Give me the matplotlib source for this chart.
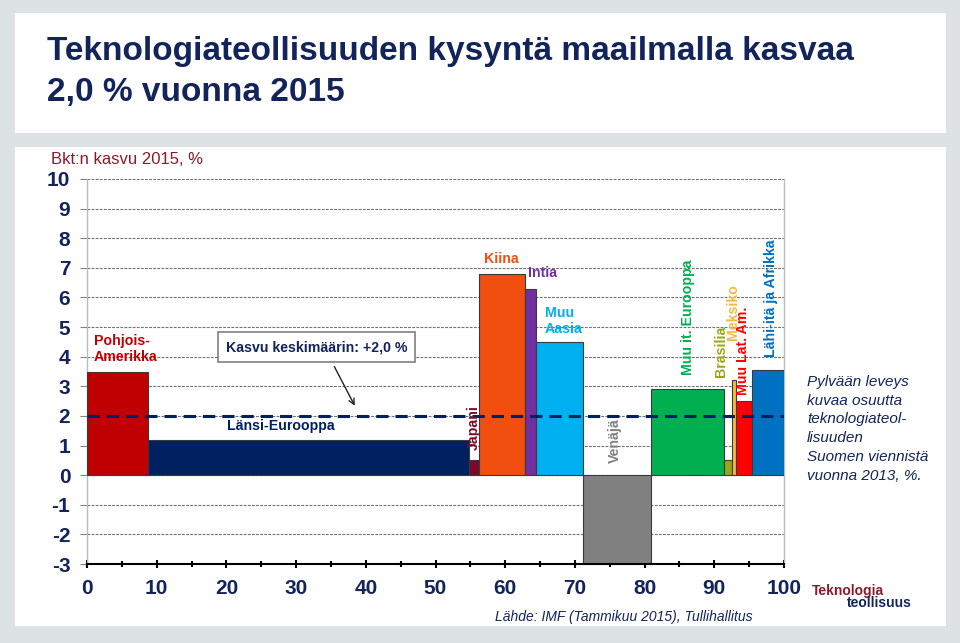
import numpy as np
import matplotlib
matplotlib.use("Agg")
import matplotlib.pyplot as plt
from matplotlib.patches import Rectangle

plt.rcParams["axes.unicode_minus"] = False

# Regions: width = share of Finnish tech industry exports 2013 (%), value = GDP growth 2015 (%)
regions = ["Pohjois-Amerikka", "Länsi-Eurooppa", "Japani", "Kiina", "Intia", "Muu Aasia",
           "Venäjä", "Muu it. Eurooppa", "Brasilia", "Meksiko", "Muu Lat. Am.",
           "Lähi-itä ja Afrikka"]
widths = [8.8, 46.0, 1.4, 6.7, 1.5, 6.8, 9.7, 10.5, 1.1, 0.6, 2.3, 4.6]
growth = [3.5, 1.2, 0.5, 6.8, 6.3, 4.5, -3.0, 2.9, 0.5, 3.2, 2.5, 3.55]
colors = ["#C00000", "#002060", "#7B0A2A", "#F04F10", "#7030A0", "#00B0F0",
          "#808080", "#00B050", "#99A617", "#F4B942", "#FF0000", "#0070C0"]
average = 2.0
y_ticks = list(range(-3, 11))
x_ticks = list(range(0, 101, 10))

navy = "#13245B"
bg = "#DDE3E3"
sans = ["Liberation Sans", "DejaVu Sans"]

fig = plt.figure(figsize=(9.6, 6.43), dpi=100)
fig.patch.set_facecolor(bg)

# white panels
fig.add_artist(Rectangle((15 / 960, 1 - 133 / 643), 931 / 960, 120 / 643,
                         transform=fig.transFigure, facecolor="white", edgecolor="none", zorder=0))
fig.add_artist(Rectangle((15 / 960, 1 - 626 / 643), 931 / 960, 479 / 643,
                         transform=fig.transFigure, facecolor="white", edgecolor="none", zorder=0))

fig.text(47 / 960, 1 - 72 / 643, "Teknologiateollisuuden kysyntä maailmalla kasvaa\n2,0 % vuonna 2015",
         family=sans, fontsize=24, fontweight="bold", color=navy, va="center",
         linespacing=1.4)

ax = fig.add_axes([87 / 960, 1 - 564 / 643, 697 / 960, 385 / 643])
ax.set_facecolor("none")
ax.set_xlim(0, 100)
ax.set_ylim(-3, 10)

lefts = np.concatenate([[0], np.cumsum(widths)[:-1]])
ax.bar(lefts, growth, width=widths, align="edge", color=colors,
       edgecolor="#3a3a3a", linewidth=0.8, zorder=3)

for y in y_ticks[1:]:
    ax.axhline(y, color="#707070", lw=0.8, dashes=(2.5, 1.2), zorder=1)
ax.plot([0, 100], [average, average], color="#002060", lw=2.2, dashes=(4.0, 2.3), zorder=4)

ax.set_yticks(y_ticks)
ax.set_xticks(x_ticks)
ax.set_xticks(range(5, 100, 10), minor=True)
for lab in ax.get_yticklabels() + ax.get_xticklabels():
    lab.set_fontfamily(sans)
    lab.set_fontweight("bold")
    lab.set_fontsize(15)
    lab.set_color(navy)
ax.tick_params(axis="y", length=5, color="#808080", pad=7)
ax.tick_params(axis="x", which="major", length=6, width=1.5, direction="inout", pad=8)
ax.tick_params(axis="x", which="minor", length=4, width=1.5, direction="inout")
for s in ["left", "right"]:
    ax.spines[s].set_color("#BBBBBB")
    ax.spines[s].set_linewidth(1)
ax.spines["top"].set_visible(False)
ax.spines["bottom"].set_linewidth(1.5)
ax.spines["bottom"].set_zorder(5)

fig.text(51 / 960, 1 - 160 / 643, "Bkt:n kasvu 2015, %", family=sans, fontsize=12,
         color="#8B1A2B", va="center")

# bar labels
bold = dict(family=sans, fontweight="bold", fontsize=10.2)
ax.text(1.0, 4.26, "Pohjois-\nAmerikka", color=colors[0], ha="left", va="center",
        linespacing=1.2, zorder=6, **bold)
ax.text(27.8, 1.65, "Länsi-Eurooppa", color=colors[1], ha="center", va="center", zorder=6, **bold)
ax.text(55.5, 0.85, "Japani", color=colors[2], ha="center", va="bottom", rotation=90, zorder=6, **bold)
ax.text(59.5, 7.3, "Kiina", color=colors[3], ha="center", va="center", zorder=6, **bold)
ax.text(63.2, 6.82, "Intia", color=colors[4], ha="left", va="center", zorder=6, **bold)
ax.text(65.7, 5.2, "Muu\nAasia", color=colors[5], ha="left", va="center",
        linespacing=1.2, zorder=6, **bold)
ax.text(75.8, 0.4, "Venäjä", color=colors[6], ha="center", va="bottom", rotation=90, zorder=6, **bold)
ax.text(86.2, 3.38, "Muu it. Eurooppa", color=colors[7], ha="center", va="bottom", rotation=90,
        zorder=6, **bold)
ax.text(90.9, 3.3, "Brasilia", color=colors[8], ha="center", va="bottom", rotation=90, zorder=6, **bold)
ax.text(94.1, 2.7, "Muu Lat. Am.", color=colors[10], ha="center", va="bottom", rotation=90,
        zorder=6, **bold)
ax.text(92.7, 4.55, "Meksiko", color=colors[9], ha="center", va="bottom", rotation=90, zorder=7, **bold)
ax.text(98.2, 4.0, "Lähi-itä ja Afrikka", color=colors[11], ha="center", va="bottom", rotation=90,
        zorder=6, **bold)

# average annotation
ax.text(32.9, 4.32, "Kasvu keskimäärin: +2,0 %", color=navy, ha="center", va="center", zorder=6,
        bbox=dict(boxstyle="square,pad=0.55", facecolor="white", edgecolor="#808080", lw=1.2),
        **bold)
ax.annotate("", xy=(38.6, 2.26), xytext=(35.3, 3.75),
            arrowprops=dict(arrowstyle="->", color="#222222", lw=1.0), zorder=6)

fig.text(807 / 960, 1 - 375 / 643,
         "Pylvään leveys\nkuvaa osuutta\nteknologiateol-\nlisuuden\nSuomen viennistä\nvuonna 2013, %.",
         family=sans, style="italic", fontsize=11, color=navy, va="top", linespacing=1.43)

fig.text(753 / 960, 1 - 617 / 643, "Lähde: IMF (Tammikuu 2015), Tullihallitus",
         family=sans, style="italic", fontsize=10, color=navy, ha="right", va="center")

fig.text(812 / 960, 1 - 591 / 643, "Teknologia", family=sans, fontweight="bold", fontsize=10,
         color="#8B1A2B", va="center")
fig.text(912 / 960, 1 - 603 / 643, "teollisuus", family=sans, fontweight="bold", fontsize=10,
         color=navy, ha="right", va="center")

fig.savefig("out.png", dpi=100, facecolor=fig.get_facecolor())
